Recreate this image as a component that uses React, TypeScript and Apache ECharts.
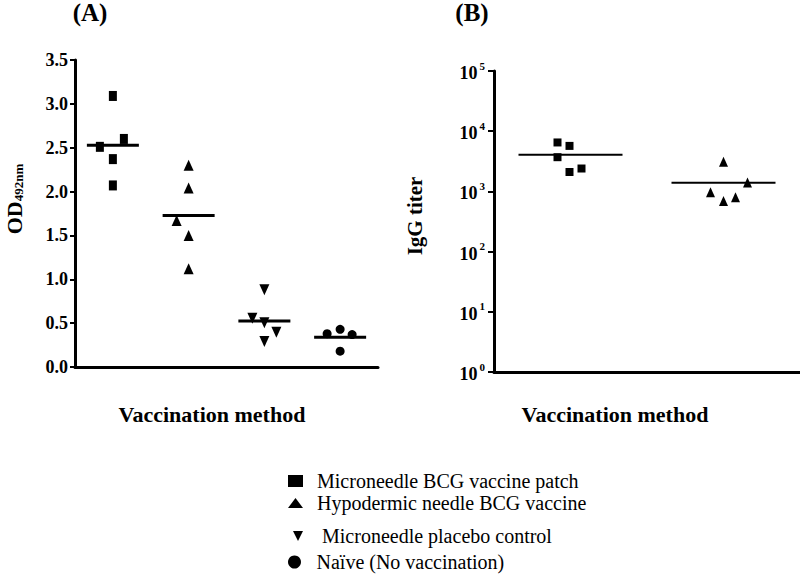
import React, { useEffect, useRef } from "react";
import * as echarts from "echarts";

// ---------- data ----------
const groupNames = [
  "Microneedle BCG vaccine patch",
  "Hypodermic needle BCG vaccine",
  "Microneedle placebo control",
  "Naïve (No vaccination)",
];

// Panel A: OD492nm per animal
const odPatch = [3.09, 2.51, 2.6, 2.37, 2.07];
const odHypodermic = [2.3, 2.04, 1.67, 1.5, 1.12];
const odPlacebo = [0.88, 0.555, 0.505, 0.395, 0.29];
const odNaive = [0.38, 0.43, 0.37, 0.18];

// Panel B: IgG titer per animal
const iggPatch = [6500, 3700, 5700, 2100, 2400];
const iggHypodermic = [3100, 1400, 970, 690, 800];

const odTicks = [0, 0.5, 1.0, 1.5, 2.0, 2.5, 3.0, 3.5];

// ---------- styling (jitter offsets in px, symbols) ----------
const jitterA = [
  [0, -13, 11, 0, 0],
  [0, 0, -12, 0, 0],
  [0, -12, 0, 12, 0],
  [-13, 0, 12, 0],
];
const jitterB = [
  [-13, -13, -1, -1, 11],
  [0, 24, -13, 0, 12],
];
const DOWN_TRI = "path://M0,0L10,0L5,10Z";
const symbols = ["rect", "triangle", DOWN_TRI, "circle"];
const symbolSizesA: any[] = [[8, 10], [10, 11], [10, 11], [9, 9]];
const symbolSizesB: any[] = [[8, 8], [9, 10]];

const SERIF = "Liberation Serif";

const mean = (a: number[]) => a.reduce((s, v) => s + v, 0) / a.length;

export default function App() {
  const ref = useRef<HTMLDivElement>(null);

  useEffect(() => {
    if (!ref.current) return;
    const chart = echarts.init(ref.current, null, { renderer: "svg" });

    const groupsA = [odPatch, odHypodermic, odPlacebo, odNaive];
    const groupsB = [iggPatch, iggHypodermic];
    const itemStyle = { color: "#000", opacity: 1 };

    const seriesA: any[] = groupsA.map((vals, g) => ({
      type: "scatter",
      name: groupNames[g],
      xAxisIndex: 0,
      yAxisIndex: 0,
      symbol: symbols[g],
      symbolSize: symbolSizesA[g],
      itemStyle,
      data: vals.map((v, i) => ({
        value: [g, v],
        symbolOffset: [jitterA[g][i], 0],
      })),
    }));
    seriesA.push({
      type: "scatter",
      name: "Mean A",
      xAxisIndex: 0,
      yAxisIndex: 0,
      symbol: "rect",
      symbolSize: [52, 3],
      itemStyle,
      data: groupsA.map((vals, g) => [g, mean(vals)]),
    });

    const seriesB: any[] = groupsB.map((vals, g) => ({
      type: "scatter",
      name: groupNames[g],
      xAxisIndex: 1,
      yAxisIndex: 1,
      symbol: symbols[g],
      symbolSize: symbolSizesB[g],
      itemStyle,
      data: vals.map((v, i) => ({
        value: [g, v],
        symbolOffset: [jitterB[g][i], 0],
      })),
    }));
    seriesB.push({
      type: "scatter",
      name: "Mean B",
      xAxisIndex: 1,
      yAxisIndex: 1,
      symbol: "rect",
      symbolSize: [104, 2],
      itemStyle,
      data: groupsB.map((vals, g) => [g, mean(vals)]),
    });

    const legendLeft = [288, 288, 293, 288];
    const legendTop = [471, 493, 526, 552];
    const legendIconW = [15, 15, 10, 14];
    const legendIconH = [12, 10, 10, 13];
    const legendPad = [9, 9, 14, 10];

    const txt = (text: string, x: number, y: number, size: number, extra: any = {}) => ({
      type: "text",
      x,
      y,
      ...extra,
      style: {
        text,
        fontFamily: SERIF,
        fontWeight: "bold",
        fontSize: size,
        fill: "#000",
        align: "center",
        verticalAlign: "middle",
      },
    });

    const option: any = {
      animation: false,
      backgroundColor: "#fff",
      textStyle: { fontFamily: SERIF, color: "#000" },
      grid: [
        { left: 75, top: 60, width: 303, height: 307, outerBoundsMode: "none", containLabel: false },
        { left: 494, top: 71, width: 306, height: 301, outerBoundsMode: "none", containLabel: false },
      ],
      xAxis: [
        {
          type: "category",
          gridIndex: 0,
          data: groupNames,
          boundaryGap: true,
          axisLine: { lineStyle: { color: "#000", width: 3 } },
          axisTick: { alignWithLabel: true, length: 9, lineStyle: { color: "#000", width: 2.5 } },
          axisLabel: { show: false },
          splitLine: { show: false },
        },
        {
          type: "category",
          gridIndex: 1,
          data: groupNames.slice(0, 2),
          boundaryGap: true,
          axisLine: { lineStyle: { color: "#000", width: 3 } },
          axisTick: { show: false },
          axisLabel: { show: false },
          splitLine: { show: false },
        },
      ],
      yAxis: [
        {
          type: "value",
          gridIndex: 0,
          min: odTicks[0],
          max: odTicks[odTicks.length - 1],
          interval: 0.5,
          axisLine: { show: true, lineStyle: { color: "#000", width: 3 } },
          axisTick: { show: true, length: 5, lineStyle: { color: "#000", width: 2 } },
          axisLabel: {
            margin: 7,
            color: "#000",
            fontFamily: SERIF,
            fontWeight: "bold",
            fontSize: 18,
            formatter: (v: number) => v.toFixed(1),
          },
          splitLine: { show: false },
        },
        {
          type: "log",
          logBase: 10,
          gridIndex: 1,
          min: 1,
          max: 100000,
          axisLine: { show: true, lineStyle: { color: "#000", width: 3 } },
          axisTick: { show: true, length: 6, lineStyle: { color: "#000", width: 2 } },
          axisLabel: {
            margin: 9,
            color: "#000",
            fontFamily: SERIF,
            fontWeight: "bold",
            fontSize: 18,
            formatter: (v: number) => `{b|10}{s|${Math.round(Math.log10(v))}}`,
            rich: {
              b: { fontFamily: SERIF, fontWeight: "bold", fontSize: 18, lineHeight: 22, verticalAlign: "bottom", color: "#000" },
              s: { fontFamily: SERIF, fontWeight: "bold", fontSize: 11, lineHeight: 22, verticalAlign: "top", color: "#000", padding: [0, 0, 0, 2] },
            },
          },
          splitLine: { show: false },
        },
      ],
      legend: groupNames.map((n, i) => ({
        data: [{ name: n, icon: symbols[i] }],
        left: legendLeft[i],
        top: legendTop[i],
        padding: 0,
        itemWidth: legendIconW[i],
        itemHeight: legendIconH[i],
        selectedMode: false,
        itemStyle: { color: "#000", opacity: 1 },
        textStyle: {
          fontFamily: SERIF,
          fontSize: 20,
          color: "#000",
          padding: [0, 0, 0, legendPad[i]],
        },
      })),
      graphic: [
        txt("(A)", 90, 12, 25),
        txt("(B)", 472, 12, 25),
        txt("Vaccination method", 212, 414, 22),
        txt("Vaccination method", 615, 414, 22),
        {
          type: "text",
          x: 14,
          y: 199,
          rotation: Math.PI / 2,
          style: {
            text: "{a|OD}{b|492nm}",
            align: "center",
            verticalAlign: "middle",
            fill: "#000",
            rich: {
              a: { fontFamily: SERIF, fontWeight: "bold", fontSize: 22, fill: "#000", lineHeight: 22, verticalAlign: "top" },
              b: { fontFamily: SERIF, fontWeight: "bold", fontSize: 13, fill: "#000", lineHeight: 22, verticalAlign: "bottom" },
            },
          },
        },
        txt("IgG titer", 415, 216, 21, { rotation: Math.PI / 2 }),
      ],
      series: [...seriesA, ...seriesB],
    };

    chart.setOption(option);
    return () => chart.dispose();
  }, []);

  return (
    <div
      ref={ref}
      style={{ position: "fixed", left: 0, top: 0, width: 800, height: 578, background: "#fff" }}
    />
  );
}
